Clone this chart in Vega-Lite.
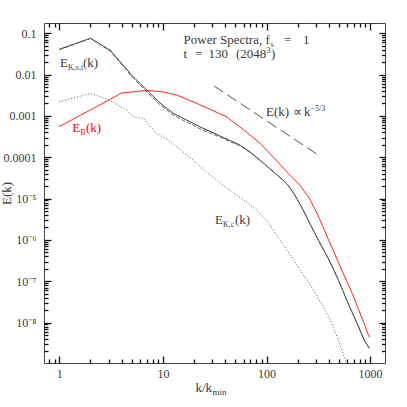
{
  "$schema": "https://vega.github.io/schema/vega-lite/v6.json",
  "width": 341,
  "height": 340,
  "autosize": {"type": "none"},
  "padding": {"left": 44, "top": 23, "right": 22, "bottom": 44},
  "background": "white",
  "config": {
    "font": "Liberation Serif",
    "view": {"stroke": "#444444", "strokeWidth": 1},
    "axis": {
      "grid": false, "domain": false, "ticks": true, "tickColor": "#111111", "tickWidth": 1.3, "tickOpacity": 1, "zindex": 1,
      "labelColor": "#3a3a3a", "titleColor": "#3a3a3a",
      "labelFont": "Liberation Serif", "titleFont": "Liberation Serif",
      "labelFontSize": 12, "titleFontSize": 13, "titleFontWeight": "normal",
      "labelFlush": false, "labelOverlap": false
    }
  },
  "resolve": {"axis": {"x": "independent", "y": "independent"}, "scale": {"color": "independent"}},
  "datasets": {
    "spectra": [
      {"series": "Ekst", "k": 1, "E": 0.041},
      {"series": "Ekst", "k": 2, "E": 0.0757},
      {"series": "Ekst", "k": 3.1, "E": 0.0388},
      {"series": "Ekst", "k": 4, "E": 0.0185},
      {"series": "Ekst", "k": 5.18, "E": 0.0088},
      {"series": "Ekst", "k": 7, "E": 0.0042},
      {"series": "Ekst", "k": 9.4, "E": 0.00204},
      {"series": "Ekst", "k": 12.5, "E": 0.00117},
      {"series": "Ekst", "k": 17, "E": 0.00079},
      {"series": "Ekst", "k": 22.8, "E": 0.000545},
      {"series": "Ekst", "k": 35, "E": 0.000334},
      {"series": "Ekst", "k": 55.5, "E": 0.000197},
      {"series": "Ekst", "k": 70, "E": 0.000132},
      {"series": "Ekst", "k": 86.6, "E": 8.5e-5},
      {"series": "Ekst", "k": 100, "E": 6.25e-5},
      {"series": "Ekst", "k": 120, "E": 4.2e-5},
      {"series": "Ekst", "k": 145, "E": 2.8e-5},
      {"series": "Ekst", "k": 162, "E": 2.1e-5},
      {"series": "Ekst", "k": 190, "E": 1.15e-5},
      {"series": "Ekst", "k": 226, "E": 5.3e-6},
      {"series": "Ekst", "k": 260, "E": 2.6e-6},
      {"series": "Ekst", "k": 310, "E": 1.1e-6},
      {"series": "Ekst", "k": 350, "E": 6.2e-7},
      {"series": "Ekst", "k": 401, "E": 3.3e-7},
      {"series": "Ekst", "k": 450, "E": 1.8e-7},
      {"series": "Ekst", "k": 500, "E": 1.0e-7},
      {"series": "Ekst", "k": 550, "E": 5.7e-8},
      {"series": "Ekst", "k": 600, "E": 3.3e-8},
      {"series": "Ekst", "k": 700, "E": 1.4e-8},
      {"series": "Ekst", "k": 800, "E": 6.5e-9},
      {"series": "Ekst", "k": 860, "E": 4.2e-9},
      {"series": "Ekst", "k": 920, "E": 3.1e-9},
      {"series": "Ekst", "k": 982, "E": 2.4e-9},

      {"series": "Eks", "k": 1, "E": 0.040},
      {"series": "Eks", "k": 2, "E": 0.0745},
      {"series": "Eks", "k": 3.1, "E": 0.037},
      {"series": "Eks", "k": 4, "E": 0.0175},
      {"series": "Eks", "k": 5.18, "E": 0.0082},
      {"series": "Eks", "k": 7, "E": 0.0038},
      {"series": "Eks", "k": 9.4, "E": 0.00185},
      {"series": "Eks", "k": 12.5, "E": 0.00105},
      {"series": "Eks", "k": 17, "E": 0.00071},
      {"series": "Eks", "k": 22.8, "E": 0.00049},
      {"series": "Eks", "k": 35, "E": 0.00031},
      {"series": "Eks", "k": 55.5, "E": 0.000188},
      {"series": "Eks", "k": 70, "E": 0.000128},
      {"series": "Eks", "k": 86.6, "E": 8.3e-5},
      {"series": "Eks", "k": 100, "E": 6.15e-5},
      {"series": "Eks", "k": 120, "E": 4.15e-5},
      {"series": "Eks", "k": 145, "E": 2.77e-5},
      {"series": "Eks", "k": 162, "E": 2.08e-5},
      {"series": "Eks", "k": 190, "E": 1.14e-5},
      {"series": "Eks", "k": 226, "E": 5.25e-6},
      {"series": "Eks", "k": 260, "E": 2.58e-6},
      {"series": "Eks", "k": 310, "E": 1.09e-6},
      {"series": "Eks", "k": 350, "E": 6.15e-7},
      {"series": "Eks", "k": 401, "E": 3.27e-7},
      {"series": "Eks", "k": 450, "E": 1.78e-7},
      {"series": "Eks", "k": 500, "E": 9.9e-8},
      {"series": "Eks", "k": 550, "E": 5.65e-8},
      {"series": "Eks", "k": 600, "E": 3.27e-8},
      {"series": "Eks", "k": 700, "E": 1.39e-8},
      {"series": "Eks", "k": 800, "E": 6.45e-9},
      {"series": "Eks", "k": 860, "E": 4.17e-9},
      {"series": "Eks", "k": 920, "E": 3.08e-9},
      {"series": "Eks", "k": 982, "E": 2.38e-9},

      {"series": "EB", "k": 1, "E": 0.00055},
      {"series": "EB", "k": 2, "E": 0.0014},
      {"series": "EB", "k": 3, "E": 0.00243},
      {"series": "EB", "k": 4, "E": 0.0036},
      {"series": "EB", "k": 5, "E": 0.0038},
      {"series": "EB", "k": 6, "E": 0.004},
      {"series": "EB", "k": 7.5, "E": 0.0041},
      {"series": "EB", "k": 10, "E": 0.0038},
      {"series": "EB", "k": 13.6, "E": 0.0032},
      {"series": "EB", "k": 19.6, "E": 0.0022},
      {"series": "EB", "k": 28, "E": 0.00147},
      {"series": "EB", "k": 41.3, "E": 0.00095},
      {"series": "EB", "k": 60, "E": 0.00046},
      {"series": "EB", "k": 86.6, "E": 0.00022},
      {"series": "EB", "k": 121, "E": 9.0e-5},
      {"series": "EB", "k": 162, "E": 4.1e-5},
      {"series": "EB", "k": 210, "E": 2.1e-5},
      {"series": "EB", "k": 260, "E": 1.0e-5},
      {"series": "EB", "k": 305, "E": 4.6e-6},
      {"series": "EB", "k": 360, "E": 1.8e-6},
      {"series": "EB", "k": 410, "E": 8.3e-7},
      {"series": "EB", "k": 482, "E": 3.3e-7},
      {"series": "EB", "k": 560, "E": 1.4e-7},
      {"series": "EB", "k": 640, "E": 6.8e-8},
      {"series": "EB", "k": 720, "E": 3.3e-8},
      {"series": "EB", "k": 800, "E": 1.68e-8},
      {"series": "EB", "k": 890, "E": 8.6e-9},
      {"series": "EB", "k": 982, "E": 4.4e-9},

      {"series": "EKc", "k": 1, "E": 0.0022},
      {"series": "EKc", "k": 2, "E": 0.0035},
      {"series": "EKc", "k": 3.09, "E": 0.0024},
      {"series": "EKc", "k": 4.47, "E": 0.00138},
      {"series": "EKc", "k": 5.18, "E": 0.00095},
      {"series": "EKc", "k": 6.46, "E": 0.00087},
      {"series": "EKc", "k": 8.7, "E": 0.00038},
      {"series": "EKc", "k": 11.3, "E": 0.00026},
      {"series": "EKc", "k": 13.6, "E": 0.00018},
      {"series": "EKc", "k": 19.6, "E": 8.5e-5},
      {"series": "EKc", "k": 22.8, "E": 5.9e-5},
      {"series": "EKc", "k": 30, "E": 3.4e-5},
      {"series": "EKc", "k": 41.3, "E": 1.8e-5},
      {"series": "EKc", "k": 59.7, "E": 9.4e-6},
      {"series": "EKc", "k": 80, "E": 5.4e-6},
      {"series": "EKc", "k": 100, "E": 3.0e-6},
      {"series": "EKc", "k": 135, "E": 1.0e-6},
      {"series": "EKc", "k": 169, "E": 4.4e-7},
      {"series": "EKc", "k": 210, "E": 1.9e-7},
      {"series": "EKc", "k": 283, "E": 6.2e-8},
      {"series": "EKc", "k": 350, "E": 2.5e-8},
      {"series": "EKc", "k": 411, "E": 1.17e-8},
      {"series": "EKc", "k": 493, "E": 3.8e-9},
      {"series": "EKc", "k": 585, "E": 1.15e-9},
      {"series": "EKc", "k": 630, "E": 7e-10}
    ],
    "slope": [
      {"k": 31.12, "E": 0.00531},
      {"k": 305.2, "E": 0.00012}
    ],
    "labels": [
      {"k": 15.81, "E": 0.05357, "t": "Power Spectra, f", "role": "main", "col": "k"},
      {"k": 109.3, "E": 0.05357, "t": "s", "role": "sub", "col": "k"},
      {"k": 147.5, "E": 0.05357, "t": "=", "role": "main", "col": "k"},
      {"k": 225.0, "E": 0.05357, "t": "1", "role": "main", "col": "k"},
      {"k": 15.81, "E": 0.02567, "t": "t", "role": "main", "col": "k"},
      {"k": 20.41, "E": 0.02567, "t": "=", "role": "main", "col": "k"},
      {"k": 27.55, "E": 0.02567, "t": "130", "role": "main", "col": "k"},
      {"k": 50.76, "E": 0.02567, "t": "(2048", "role": "main", "col": "k"},
      {"k": 100.0, "E": 0.02567, "t": "3", "role": "sup", "col": "k"},
      {"k": 110.5, "E": 0.02567, "t": ")", "role": "main", "col": "k"},
      {"k": 98.9, "E": 0.000997, "t": "E(k)", "role": "main", "col": "k"},
      {"k": 180.3, "E": 0.000997, "t": "∝", "role": "main", "col": "k"},
      {"k": 230.1, "E": 0.000997, "t": "k", "role": "main", "col": "k"},
      {"k": 265.9, "E": 0.000997, "t": "−5/3", "role": "sup", "col": "k"},
      {"k": 1.016, "E": 0.01555, "t": "E", "role": "main", "col": "k"},
      {"k": 1.213, "E": 0.01555, "t": "K,s,t", "role": "sub", "col": "k"},
      {"k": 1.694, "E": 0.01555, "t": "(k)", "role": "main", "col": "k"},
      {"k": 1.335, "E": 0.000415, "t": "E", "role": "main", "col": "r"},
      {"k": 1.595, "E": 0.000415, "t": "B", "role": "sub", "col": "r"},
      {"k": 1.810, "E": 0.000415, "t": "(k)", "role": "main", "col": "r"},
      {"k": 31.84, "E": 2.425e-6, "t": "E", "role": "main", "col": "k"},
      {"k": 38.03, "E": 2.425e-6, "t": "K,c", "role": "sub", "col": "k"},
      {"k": 49.64, "E": 2.425e-6, "t": "(k)", "role": "main", "col": "k"}
    ]
  },
  "layer": [
    {
      "data": {"name": "spectra"},
      "mark": {"type": "line", "strokeWidth": 1, "clip": true},
      "encoding": {
        "x": {"field": "k", "type": "quantitative",
          "scale": {"type": "log", "domain": [0.7115, 1392.5], "nice": false},
          "axis": {"orient": "bottom", "values": [1, 10, 100, 1000], "format": "d", "offset": -7, "tickSize": 7, "labelPadding": 5,
            "title": "k/k", "titleX": 151, "titleY": 35, "titleAlign": "left", "titleBaseline": "alphabetic", "titleAnchor": null}},
        "y": {"field": "E", "type": "quantitative",
          "scale": {"type": "log", "domain": [1.05e-9, 0.1774], "nice": false},
          "axis": {"orient": "left", "values": [1e-8, 1e-7, 1e-6, 1e-5, 0.0001, 0.001, 0.01, 0.1], "offset": -7, "tickSize": 7, "labelPadding": 8,
            "labelExpr": "['', '0.1', '0.01', '0.001', '0.0001', '10⁻⁵', '10⁻⁶', '10⁻⁷', '10⁻⁸'][round(-log(datum.value)/LN10)]",
            "title": "E(k)", "titleX": -41, "titleY": 170, "titleAngle": 270, "titleAlign": "center", "titleBaseline": "alphabetic"}},
        "color": {"field": "series", "type": "nominal",
          "scale": {"domain": ["Ekst", "Eks", "EB", "EKc"], "range": ["#1a1a1a", "#6a6a6a", "#ff0000", "#555555"]}, "legend": null},
        "strokeDash": {"field": "series", "type": "nominal",
          "scale": {"domain": ["Ekst", "Eks", "EB", "EKc"], "range": [[1, 0], [4, 2], [1, 0], [1, 2]]}, "legend": null}
      }
    },
    {
      "data": {"name": "slope"},
      "mark": {"type": "line", "strokeWidth": 1, "color": "#555555", "strokeDash": [11, 5]},
      "encoding": {
        "x": {"field": "k", "type": "quantitative",
          "scale": {"type": "log", "domain": [0.7115, 1392.5], "nice": false},
          "axis": {"orient": "top", "values": [1, 10, 100, 1000], "offset": -7, "tickSize": 7, "labels": false, "title": null}},
        "y": {"field": "E", "type": "quantitative",
          "scale": {"type": "log", "domain": [1.05e-9, 0.1774], "nice": false},
          "axis": {"orient": "right", "values": [1e-8, 1e-7, 1e-6, 1e-5, 0.0001, 0.001, 0.01, 0.1], "offset": -6, "tickSize": 6, "labels": false, "title": null}}
      }
    },
    {
      "data": {"name": "labels"},
      "transform": [{"filter": "datum.role === 'main'"}],
      "mark": {"type": "text", "align": "left", "baseline": "alphabetic", "fontSize": 13},
      "encoding": {
        "x": {"field": "k", "type": "quantitative",
          "scale": {"type": "log", "domain": [0.7115, 1392.5], "nice": false},
          "axis": {"orient": "bottom", "values": [0.8, 0.9, 2, 3, 4, 5, 6, 7, 8, 9, 20, 30, 40, 50, 60, 70, 80, 90, 200, 300, 400, 500, 600, 700, 800, 900],
            "offset": -4, "tickSize": 4, "labels": false,
            "title": "min", "titleX": 168, "titleY": 35, "titleAlign": "left", "titleBaseline": "alphabetic", "titleFontSize": 9, "titleAnchor": null}},
        "y": {"field": "E", "type": "quantitative",
          "scale": {"type": "log", "domain": [1.05e-9, 0.1774], "nice": false},
          "axis": {"orient": "left", "offset": -4, "tickSize": 4, "labels": false, "title": null,
            "values": [2e-9, 3e-9, 4e-9, 5e-9, 6e-9, 7e-9, 8e-9, 9e-9, 2e-8, 3e-8, 4e-8, 5e-8, 6e-8, 7e-8, 8e-8, 9e-8, 2e-7, 3e-7, 4e-7, 5e-7, 6e-7, 7e-7, 8e-7, 9e-7, 2e-6, 3e-6, 4e-6, 5e-6, 6e-6, 7e-6, 8e-6, 9e-6, 2e-5, 3e-5, 4e-5, 5e-5, 6e-5, 7e-5, 8e-5, 9e-5, 0.0002, 0.0003, 0.0004, 0.0005, 0.0006, 0.0007, 0.0008, 0.0009, 0.002, 0.003, 0.004, 0.005, 0.006, 0.007, 0.008, 0.009, 0.02, 0.03, 0.04, 0.05, 0.06, 0.07, 0.08, 0.09]}},
        "text": {"field": "t", "type": "nominal"},
        "color": {"field": "col", "type": "nominal", "scale": {"domain": ["k", "r"], "range": ["#3a3a3a", "#ff0000"]}, "legend": null}
      }
    },
    {
      "data": {"name": "labels"},
      "transform": [{"filter": "datum.role === 'sub'"}],
      "mark": {"type": "text", "align": "left", "baseline": "alphabetic", "fontSize": 8, "dy": 3},
      "encoding": {
        "x": {"field": "k", "type": "quantitative",
          "scale": {"type": "log", "domain": [0.7115, 1392.5], "nice": false},
          "axis": {"orient": "top", "values": [0.8, 0.9, 2, 3, 4, 5, 6, 7, 8, 9, 20, 30, 40, 50, 60, 70, 80, 90, 200, 300, 400, 500, 600, 700, 800, 900],
            "offset": -4, "tickSize": 4, "labels": false, "title": null}},
        "y": {"field": "E", "type": "quantitative",
          "scale": {"type": "log", "domain": [1.05e-9, 0.1774], "nice": false},
          "axis": {"orient": "right", "offset": -3.5, "tickSize": 3.5, "labels": false, "title": null,
            "values": [2e-9, 3e-9, 4e-9, 5e-9, 6e-9, 7e-9, 8e-9, 9e-9, 2e-8, 3e-8, 4e-8, 5e-8, 6e-8, 7e-8, 8e-8, 9e-8, 2e-7, 3e-7, 4e-7, 5e-7, 6e-7, 7e-7, 8e-7, 9e-7, 2e-6, 3e-6, 4e-6, 5e-6, 6e-6, 7e-6, 8e-6, 9e-6, 2e-5, 3e-5, 4e-5, 5e-5, 6e-5, 7e-5, 8e-5, 9e-5, 0.0002, 0.0003, 0.0004, 0.0005, 0.0006, 0.0007, 0.0008, 0.0009, 0.002, 0.003, 0.004, 0.005, 0.006, 0.007, 0.008, 0.009, 0.02, 0.03, 0.04, 0.05, 0.06, 0.07, 0.08, 0.09]}},
        "text": {"field": "t", "type": "nominal"},
        "color": {"field": "col", "type": "nominal", "scale": {"domain": ["k", "r"], "range": ["#3a3a3a", "#ff0000"]}, "legend": null}
      }
    },
    {
      "data": {"name": "labels"},
      "transform": [{"filter": "datum.role === 'sup'"}],
      "mark": {"type": "text", "align": "left", "baseline": "alphabetic", "fontSize": 8, "dy": -5},
      "encoding": {
        "x": {"field": "k", "type": "quantitative",
          "scale": {"type": "log", "domain": [0.7115, 1392.5], "nice": false}, "axis": null},
        "y": {"field": "E", "type": "quantitative",
          "scale": {"type": "log", "domain": [1.05e-9, 0.1774], "nice": false}, "axis": null},
        "text": {"field": "t", "type": "nominal"},
        "color": {"field": "col", "type": "nominal", "scale": {"domain": ["k", "r"], "range": ["#3a3a3a", "#ff0000"]}, "legend": null}
      }
    }
  ]
}
